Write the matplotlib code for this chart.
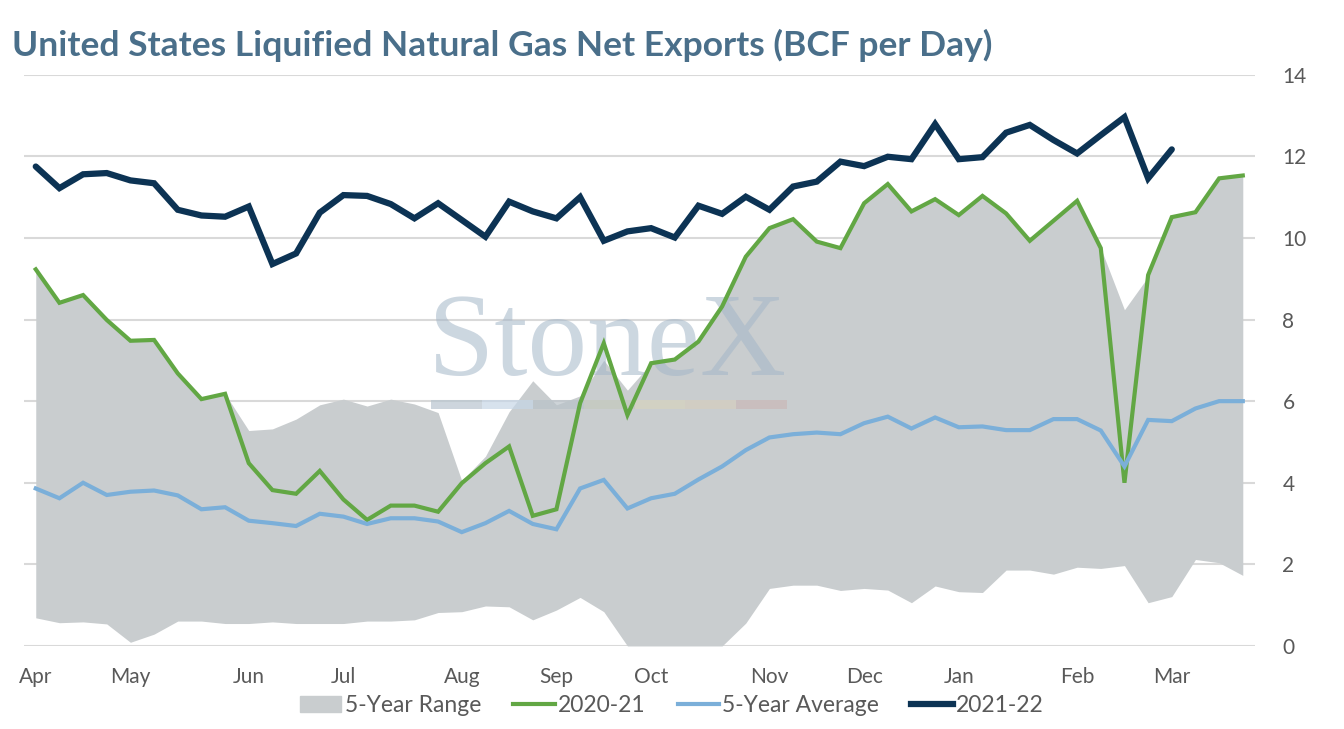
import matplotlib.pyplot as plt
from matplotlib.patches import Patch
from matplotlib.lines import Line2D

# weekly points, April .. late March
weeks = list(range(52))

month_labels = ["Apr", "May", "Jun", "Jul", "Aug", "Sep",
                "Oct", "Nov", "Dec", "Jan", "Feb", "Mar"]
month_weeks = [0, 4, 9, 13, 18, 22, 26, 31, 35, 39, 44, 48]

range_high = [9.23, 8.41, 8.60, 7.99, 7.48, 7.50, 6.68, 6.05, 6.18, 5.28,
              5.32, 5.56, 5.91, 6.05, 5.88, 6.05, 5.93, 5.72, 4.05, 4.65,
              5.74, 6.50, 5.91, 6.13, 7.00, 6.27, 6.93, 7.05, 7.46, 8.32,
              9.54, 10.24, 10.46, 9.91, 9.75, 10.85, 11.32, 10.65, 10.95, 10.56,
              11.03, 10.60, 9.93, 10.42, 10.91, 9.75, 8.24, 9.05, 10.51, 10.63,
              11.46, 11.53]

range_low = [0.69, 0.57, 0.59, 0.54, 0.09, 0.29, 0.61, 0.61, 0.55, 0.55,
             0.59, 0.55, 0.55, 0.55, 0.61, 0.61, 0.64, 0.82, 0.84, 0.98,
             0.96, 0.64, 0.88, 1.19, 0.84, 0.00, 0.00, 0.00, 0.00, 0.00,
             0.56, 1.41, 1.49, 1.49, 1.36, 1.41, 1.37, 1.06, 1.47, 1.33,
             1.31, 1.86, 1.86, 1.76, 1.93, 1.90, 1.97, 1.06, 1.21, 2.12,
             2.04, 1.73]

y2020 = [9.23, 8.41, 8.60, 7.99, 7.48, 7.50, 6.68, 6.05, 6.18, 4.48,
         3.82, 3.73, 4.29, 3.59, 3.09, 3.44, 3.44, 3.29, 3.99, 4.48,
         4.89, 3.19, 3.35, 5.95, 7.42, 5.66, 6.93, 7.02, 7.46, 8.32,
         9.54, 10.24, 10.46, 9.91, 9.75, 10.85, 11.32, 10.65, 10.95, 10.56,
         11.03, 10.60, 9.93, 10.42, 10.91, 9.75, 4.00, 9.09, 10.51, 10.63,
         11.46, 11.53]

avg5 = [3.86, 3.62, 4.00, 3.70, 3.78, 3.81, 3.69, 3.35, 3.40, 3.07,
        3.01, 2.94, 3.24, 3.17, 2.99, 3.13, 3.13, 3.05, 2.79, 3.01,
        3.31, 2.99, 2.86, 3.86, 4.07, 3.37, 3.62, 3.73, 4.08, 4.40,
        4.80, 5.11, 5.19, 5.23, 5.19, 5.46, 5.62, 5.33, 5.60, 5.36,
        5.38, 5.29, 5.29, 5.56, 5.56, 5.28, 4.40, 5.54, 5.51, 5.82,
        6.00, 6.00]

y2021 = [11.75, 11.22, 11.56, 11.59, 11.41, 11.34, 10.69, 10.55, 10.52, 10.77,
         9.36, 9.62, 10.62, 11.05, 11.03, 10.83, 10.48, 10.85, 10.44, 10.03,
         10.89, 10.65, 10.48, 11.00, 9.93, 10.16, 10.24, 10.01, 10.79, 10.59,
         11.01, 10.69, 11.26, 11.38, 11.87, 11.76, 11.99, 11.93, 12.79, 11.93,
         11.98, 12.58, 12.77, 12.40, 12.07, 12.52, 12.96, 11.46, 12.17]

C_RANGE = "#c9cdcf"
C_2020 = "#62a744"
C_AVG = "#7bafd9"
C_2021 = "#0c3354"
C_TEXT = "#595959"
C_TITLE = "#4a6f8a"

plt.rcParams["font.family"] = ["Lato", "DejaVu Sans"]

fig = plt.figure(figsize=(13.44, 7.29), dpi=100)
ax = fig.add_axes([0.0178, 0.1139, 0.9157, 0.7836])

ax.fill_between(weeks, range_low, range_high, color=C_RANGE, lw=0, zorder=1)

# faint StoneX watermark behind the lines
ax.text(0.474, 0.525, "StoneX", transform=ax.transAxes, ha="center", va="center",
        fontsize=86, family="Liberation Serif", color="#a3b6c8", alpha=0.55,
        zorder=2)
bar_cols = ["#b8c4cf", "#c6d6e6", "#b9c2c8", "#c4cabd", "#d7d3bf", "#d5cdbf", "#c9b8b8"]
for k, c in enumerate(bar_cols):
    ax.axvspan(16.7 + k * 2.15, 16.7 + (k + 1) * 2.15, ymin=0.415, ymax=0.43,
               color=c, alpha=0.7, lw=0, zorder=2)

ax.plot(weeks, y2020, color=C_2020, lw=3.0, zorder=3, solid_joinstyle="miter")
ax.plot(weeks, avg5, color=C_AVG, lw=3.0, zorder=3, solid_joinstyle="miter")
ax.plot(weeks[:len(y2021)], y2021, color=C_2021, lw=4.5, zorder=4,
        solid_capstyle="round", solid_joinstyle="miter")

ax.set_xlim(-0.5, 51.5)
ax.set_ylim(0, 14)
ax.set_yticks(range(0, 15, 2))
ax.set_xticks(month_weeks)
ax.set_xticklabels(month_labels)
ax.yaxis.tick_right()
ax.grid(axis="y", color="#d9d9d9", lw=1.5, zorder=0)
ax.set_axisbelow(True)
for s in ax.spines.values():
    s.set_visible(False)
ax.tick_params(axis="both", length=0, labelsize=15, labelcolor=C_TEXT)
ax.tick_params(axis="y", pad=20)
ax.tick_params(axis="x", pad=15)

fig.text(0.009, 0.938, "United States Liquified Natural Gas Net Exports (BCF per Day)",
         fontsize=25.5, fontweight="bold", color=C_TITLE, ha="left", va="center")

handles = [Patch(color=C_RANGE, label="5-Year Range"),
           Line2D([], [], color=C_2020, lw=3.0, label="2020-21"),
           Line2D([], [], color=C_AVG, lw=3.0, label="5-Year Average"),
           Line2D([], [], color=C_2021, lw=4.5, label="2021-22")]
fig.legend(handles=handles, loc="center", bbox_to_anchor=(0.5, 0.032), ncol=4,
           frameon=False, fontsize=16.5, labelcolor=C_TEXT, handlelength=1.8,
           handletextpad=0.15, columnspacing=1.4)

fig.savefig("out.png", dpi=100)
